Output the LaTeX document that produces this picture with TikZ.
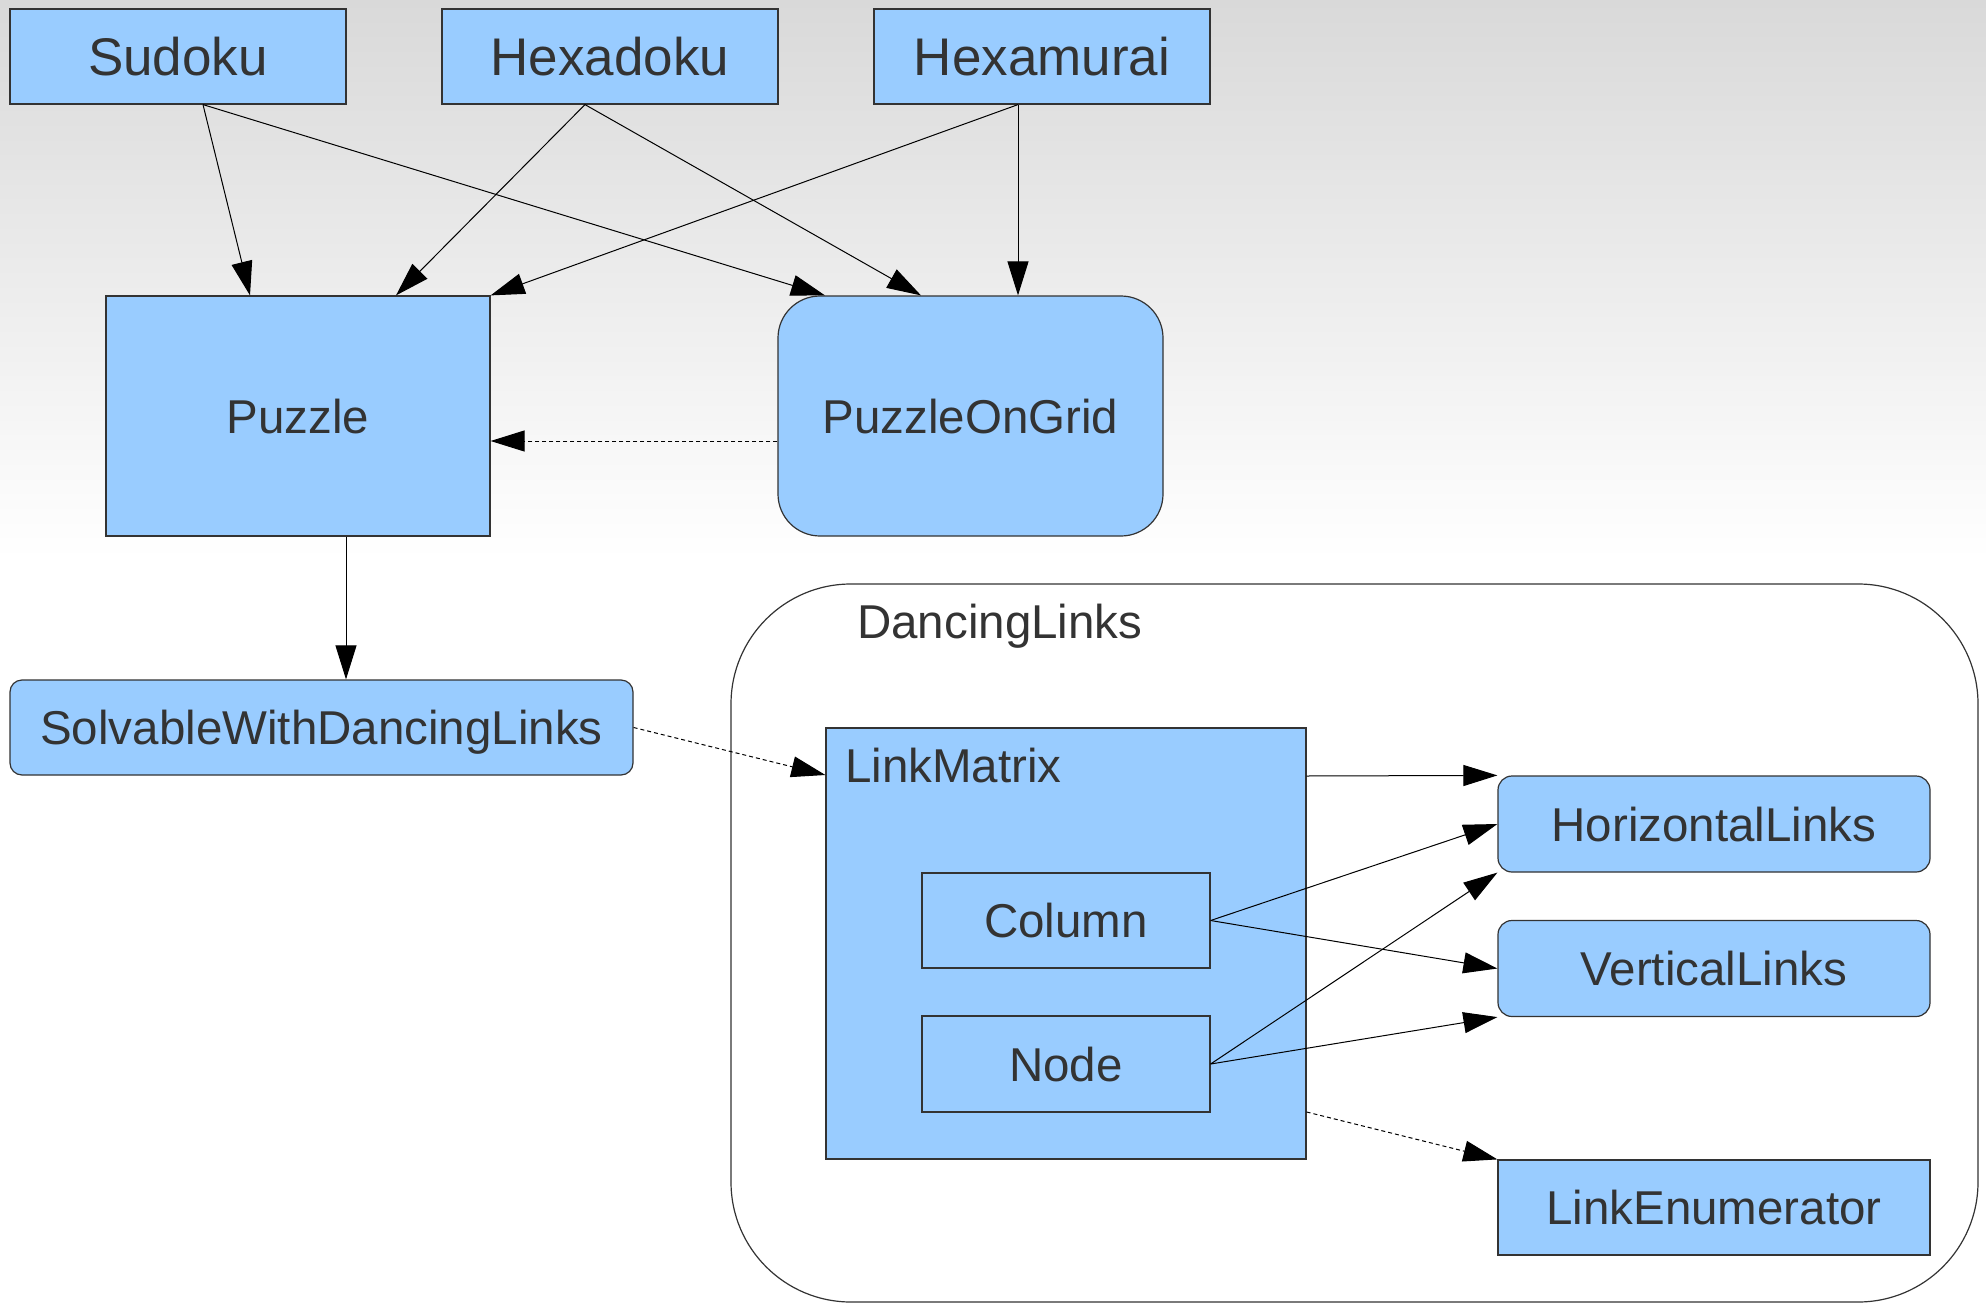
\documentclass[tikz,border=0pt]{standalone}
\usepackage{fontspec}
\setmainfont{Liberation Sans}
\usetikzlibrary{arrows.meta}
\definecolor{boxfill}{HTML}{99CCFF}
\definecolor{boxline}{HTML}{333333}
\definecolor{txt}{HTML}{333333}
\definecolor{bgtop}{HTML}{D9D9D9}
\tikzset{
  base/.style={draw=boxline, line width=1.2pt, fill=boxfill, inner sep=0pt, text=txt,
    font=\fontsize{47.5}{55}\selectfont, text height=34pt, text depth=0pt},
  bigbox/.style={base, font=\fontsize{53}{60}\selectfont, text height=38pt},
  conn/.style={draw=black, line width=1pt, -{Triangle[length=34pt,width=21pt]}},
  dconn/.style={conn, dash pattern=on 4pt off 3pt},
  lbl/.style={inner sep=0pt, text=txt, font=\fontsize{47.5}{55}\selectfont,
    text height=34pt, text depth=0pt, anchor=west}
}
\begin{document}
\begin{tikzpicture}[x=1pt,y=-1pt]
\useasboundingbox (0,0) rectangle (1986,1303);
\fill[white] (0,0) rectangle (1986,1303);
\shade[top color=bgtop, bottom color=white] (0,0) rectangle (1986,560);

% top row
\node[bigbox, minimum width=336pt, minimum height=95pt] (sudoku) at (178,56.5) {Sudoku};
\node[bigbox, minimum width=336pt, minimum height=95pt] (hexadoku) at (610,56.5) {Hexadoku};
\node[bigbox, minimum width=336pt, minimum height=95pt] (hexamurai) at (1042,56.5) {Hexamurai};

% second row
\node[base, minimum width=384pt, minimum height=240pt] (puzzle) at (298,416) {Puzzle};
\node[base, rounded corners=42pt, minimum width=385pt, minimum height=240pt] (pog) at (970.5,416) {PuzzleOnGrid};

% solvable
\node[base, rounded corners=12pt, minimum width=623pt, minimum height=95pt] (solv) at (321.5,727.5) {SolvableWithDancingLinks};

% container
\node[draw=boxline, line width=1.2pt, rounded corners=120pt, inner sep=0pt,
  minimum width=1247pt, minimum height=718pt] (dl) at (1354.5,943) {};
\node[lbl] (dllabel) at (857,621) {DancingLinks};

% link matrix
\node[base, minimum width=480pt, minimum height=431pt] (lm) at (1066,943.5) {};
\node[lbl] (lmlabel) at (845,765) {LinkMatrix};
\node[base, minimum width=288pt, minimum height=95pt] (col) at (1066,920.5) {Column};
\node[base, minimum width=288pt, minimum height=96pt] (nodebox) at (1066,1064) {Node};

% right column
\node[base, rounded corners=14pt, minimum width=432pt, minimum height=96pt] (hl) at (1714,824) {HorizontalLinks};
\node[base, rounded corners=14pt, minimum width=432pt, minimum height=96pt] (vl) at (1714,968.5) {VerticalLinks};
\node[base, minimum width=432pt, minimum height=95pt] (le) at (1714,1207.5) {LinkEnumerator};

% connectors
\draw[conn] ([xshift=25pt]sudoku.south) -- ([xshift=-48pt]puzzle.north);
\draw[conn] ([xshift=25pt]sudoku.south) -- ([xshift=-145.5pt]pog.north);
\draw[conn] ([xshift=-25pt]hexadoku.south) -- ([xshift=98pt]puzzle.north);
\draw[conn] ([xshift=-25pt]hexadoku.south) -- ([xshift=-49.5pt]pog.north);
\draw[conn] ([xshift=-24pt]hexamurai.south) -- (puzzle.north east);
\draw[conn] ([xshift=-24pt]hexamurai.south) -- ([xshift=-24pt]hexamurai.south |- pog.north);
\draw[dconn] ([yshift=-25pt]pog.west) -- ([yshift=-25pt]puzzle.east);
\draw[conn] ([xshift=48pt]puzzle.south) -- ([xshift=48pt]puzzle.south |- solv.north);
\draw[dconn] (solv.east) -- ([yshift=168.5pt]lm.west);
\draw[conn] ([yshift=167.5pt]lm.east) -- (hl.north west);
\draw[conn] (col.east) -- (hl.west);
\draw[conn] (col.east) -- (vl.west);
\draw[conn] (nodebox.east) -- (hl.south west);
\draw[conn] (nodebox.east) -- (vl.south west);
\draw[dconn] ([yshift=-168.5pt]lm.east) -- (le.north west);
\end{tikzpicture}
\end{document}
